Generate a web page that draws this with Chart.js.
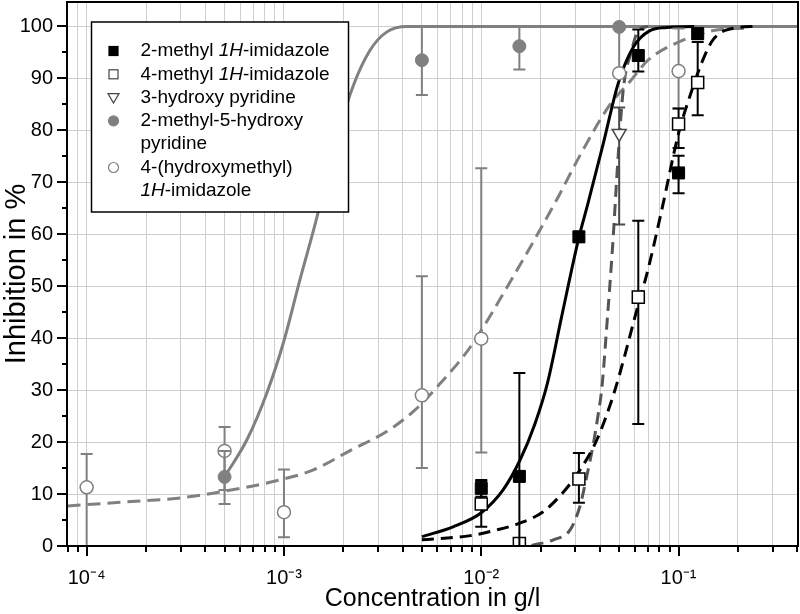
<!DOCTYPE html>
<html><head><meta charset="utf-8">
<script src="https://cdn.jsdelivr.net/npm/chart.js@4.4.1/dist/chart.umd.min.js"></script>
<style>html,body{margin:0;padding:0;background:#fff}canvas{display:block}</style>
</head><body>
<canvas id="c" width="800" height="614"></canvas>
<script>
// ---------- measured data (concentration g/l, inhibition %) ----------
// 2-methyl 1H-imidazole
const conc2MI = [0.01, 0.0156, 0.03125, 0.0625, 0.1, 0.125];
const inh2MI  = [11.1, 13.4, 59.5, 94.4, 71.8, 98.6];
const hi2MI   = [12.7, 33.3, 60.5, 99.4, 75.1, 99.6];
const lo2MI   = [9.5, 0.0, 58.5, 91.3, 67.9, 97.6];
// 4-methyl 1H-imidazole
const conc4MI = [0.01, 0.0156, 0.03125, 0.0625, 0.1, 0.125];
const inh4MI  = [8.1, 0.5, 12.9, 47.9, 81.2, 89.2];
const hi4MI   = [12.5, 1.5, 17.9, 62.6, 84.2, 97.0];
const lo4MI   = [3.7, 0.0, 8.3, 23.5, 76.6, 82.9];
// 3-hydroxy pyridine
const conc3HP = [0.05];
const inh3HP  = [79.4];
const hi3HP   = [84.4];
const lo3HP   = [61.9];
// 2-methyl-5-hydroxy pyridine
const concMHP = [0.0005, 0.005, 0.0156, 0.05];
const inhMHP  = [13.3, 93.5, 96.2, 99.9];
const hiMHP   = [18.3, 100, 100, 100];
const loMHP   = [8.1, 86.8, 91.7, 99.9];
// 4-(hydroxymethyl) 1H-imidazole
const concHMI = [0.0001, 0.0005, 0.001, 0.005, 0.01, 0.05, 0.1];
const inhHMI  = [11.3, 18.3, 6.5, 29.0, 39.9, 91.0, 91.4];
const hiHMI   = [17.7, 22.9, 14.7, 51.9, 72.7, 99.6, 99.6];
const loHMI   = [0.0, 10.8, 1.7, 15.0, 18.0, 91.0, 84.2];

// ---------- fitted curves ----------
const fitX2MI = [0.005, 0.0072, 0.01, 0.0129, 0.0157, 0.0187, 0.0217, 0.0255, 0.0313, 0.0345, 0.0415, 0.0494, 0.0589, 0.0716, 0.087, 0.12];
const fitY2MI = [1.8, 3.7, 6.4, 10.8, 16.5, 23.5, 31.5, 44.0, 59.5, 65.5, 77.4, 89.0, 96.0, 99.2, 99.8, 100];
const fitX4MI = [0.005, 0.0088, 0.012, 0.0157, 0.0206, 0.0261, 0.0316, 0.0385, 0.0467, 0.0534, 0.0601, 0.0703, 0.082, 0.1, 0.1175, 0.131, 0.15, 0.193, 0.25];
const fitY4MI = [1.2, 2.0, 3.1, 4.4, 6.6, 10.4, 14.6, 20.4, 29.0, 36.7, 44.1, 53.5, 64.5, 79.4, 88.0, 93.0, 97.5, 99.7, 100];
const fitX3HP = [0.018, 0.0232, 0.0282, 0.0316, 0.0342, 0.037, 0.0392, 0.0409, 0.0435, 0.0463, 0.0494, 0.0525, 0.0578, 0.0625, 0.07];
const fitY3HP = [0.1, 1.2, 3.1, 7.6, 13.3, 19.7, 25.5, 30.6, 43.5, 57.6, 75.0, 88.0, 95.4, 99.2, 100];
const fitXMHP = [0.0005, 0.00065, 0.00082, 0.001, 0.0012, 0.00144, 0.00164, 0.00192, 0.00224, 0.00273, 0.00331, 0.0042, 0.4];
const fitYMHP = [13.3, 20.5, 29.5, 39.5, 51.0, 62.0, 70.5, 80.5, 88.5, 95.4, 98.9, 100, 100];
const fitXHMI = [0.00008, 0.00016, 0.00029, 0.00051, 0.00088, 0.0014, 0.0022, 0.0033, 0.0045, 0.0062, 0.0088, 0.0145, 0.024, 0.032, 0.045, 0.057, 0.07, 0.1, 0.15, 0.22];
const fitYHMI = [7.7, 8.5, 9.2, 10.6, 12.4, 14.6, 18.5, 22.0, 25.8, 31.3, 38.3, 51.8, 66.5, 75.5, 85.0, 89.5, 93.5, 97.0, 99.2, 99.7];

// ---------- axes ----------
const xMin = 7.95e-5, xMax = 0.403;
const yMin = 0, yMax = 104.7;
const decadeVals = [1e-4, 1e-3, 1e-2, 1e-1];
const decadeLabels = ['10\u207B\u2074', '10\u207B\u00B3', '10\u207B\u00B2', '10\u207B\u00B9'];
const yTickVals = [0, 10, 20, 30, 40, 50, 60, 70, 80, 90, 100];
const xTitle = 'Concentration in g/l';
const yTitle = 'Inhibition in %';

const seriesNames = ['2-methyl 1H-imidazole', '4-methyl 1H-imidazole', '3-hydroxy pyridine',
  '2-methyl-5-hydroxy pyridine', '4-(hydroxymethyl) 1H-imidazole'];
// legend text with italic runs
const legendEntries = [
  {m: 0, lines: [[['2-methyl ', false], ['1H', true], ['-imidazole', false]]]},
  {m: 1, lines: [[['4-methyl ', false], ['1H', true], ['-imidazole', false]]]},
  {m: 2, lines: [[['3-hydroxy pyridine', false]]]},
  {m: 3, lines: [[['2-methyl-5-hydroxy', false]], [['pyridine', false]]]},
  {m: 4, lines: [[['4-(hydroxymethyl)', false]], [['1H', true], ['-imidazole', false]]]}
];

const GRAY = '#808080', DGRAY = '#4a4a4a';
const FONT = "'Liberation Sans', Arial, Helvetica, sans-serif";

const pts = (xs, ys) => xs.map((x, i) => ({x: x, y: ys[i]}));
const isDecade = v => decadeVals.some(d => Math.abs(d - v) / d < 1e-6);

const markerStyles = [
  {pointStyle: 'rect', pointRadius: 8.5, backgroundColor: '#000', borderColor: '#000', borderWidth: 1, err: '#000'},
  {pointStyle: 'rect', pointRadius: 8.5, backgroundColor: '#fff', borderColor: '#000', borderWidth: 1.5, err: '#000'},
  {pointStyle: 'triangle', pointRotation: 180, pointRadius: 8, backgroundColor: '#fff', borderColor: DGRAY, borderWidth: 1.5, err: DGRAY},
  {pointStyle: 'circle', pointRadius: 6.5, backgroundColor: GRAY, borderColor: GRAY, borderWidth: 1, err: GRAY},
  {pointStyle: 'circle', pointRadius: 6.5, backgroundColor: '#fff', borderColor: GRAY, borderWidth: 1.5, err: GRAY}
];

function pointSet(i, xs, ys, hi, lo) {
  const s = markerStyles[i];
  return {
    label: seriesNames[i], data: pts(xs, ys), showLine: false, order: 1,
    pointStyle: s.pointStyle, pointRadius: s.pointRadius, pointRotation: s.pointRotation || 0,
    pointBackgroundColor: s.backgroundColor, pointBorderColor: s.borderColor, pointBorderWidth: s.borderWidth,
    errHi: hi, errLo: lo, errColor: s.err
  };
}
function lineSet(label, xs, ys, color, dash) {
  return {
    label: label, data: pts(xs, ys), showLine: true, order: 2, pointRadius: 0,
    borderColor: color, borderWidth: 3, borderDash: dash, cubicInterpolationMode: 'monotone', fill: false
  };
}

const datasets = [
  pointSet(0, conc2MI, inh2MI, hi2MI, lo2MI),
  pointSet(1, conc4MI, inh4MI, hi4MI, lo4MI),
  pointSet(2, conc3HP, inh3HP, hi3HP, lo3HP),
  pointSet(3, concMHP, inhMHP, hiMHP, loMHP),
  pointSet(4, concHMI, inhHMI, hiHMI, loHMI),
  lineSet('fit 2-methyl 1H-imidazole', fitX2MI, fitY2MI, '#000', []),
  lineSet('fit 4-methyl 1H-imidazole', fitX4MI, fitY4MI, '#000', [12, 7]),
  lineSet('fit 3-hydroxy pyridine', fitX3HP, fitY3HP, '#555', [12, 7]),
  lineSet('fit 2-methyl-5-hydroxy pyridine', fitXMHP, fitYMHP, GRAY, []),
  lineSet('fit 4-(hydroxymethyl) 1H-imidazole', fitXHMI, fitYHMI, GRAY, [13, 7])
];

const errorBars = {
  id: 'errorBars',
  beforeDatasetDraw(chart, args) {
    const ds = chart.data.datasets[args.index];
    if (!ds.errHi) return;
    const {ctx, chartArea: a, scales: {x, y}} = chart;
    ctx.save();
    ctx.beginPath(); ctx.rect(a.left, a.top, a.right - a.left, a.bottom - a.top); ctx.clip();
    ctx.strokeStyle = ds.errColor; ctx.lineWidth = 2;
    ds.data.forEach((p, i) => {
      const px = x.getPixelForValue(p.x);
      const yh = y.getPixelForValue(ds.errHi[i]);
      const yl = y.getPixelForValue(ds.errLo[i]);
      ctx.beginPath();
      ctx.moveTo(px, yh); ctx.lineTo(px, yl);
      if (Math.abs(yh - yl) > 1) {
        ctx.moveTo(px - 6, yh); ctx.lineTo(px + 6, yh);
        ctx.moveTo(px - 6, yl); ctx.lineTo(px + 6, yl);
      }
      ctx.stroke();
    });
    ctx.restore();
  }
};

const frameTicks = {
  id: 'frameTicks',
  afterDatasetsDraw(chart) {
    const {ctx, chartArea: a, scales: {x, y}} = chart;
    ctx.save();
    ctx.strokeStyle = '#000'; ctx.lineWidth = 2;
    ctx.strokeRect(a.left, a.top, a.right - a.left, a.bottom - a.top);
    ctx.beginPath();
    x.ticks.forEach(t => {
      const px = Math.round(x.getPixelForValue(t.value));
      ctx.moveTo(px, a.bottom); ctx.lineTo(px, a.bottom + (isDecade(t.value) ? 10 : 6));
    });
    for (let v = 0; v <= 100; v += 5) {
      const py = Math.round(y.getPixelForValue(v));
      ctx.moveTo(a.left, py); ctx.lineTo(a.left - (v % 10 === 0 ? 10 : 5), py);
    }
    ctx.stroke();
    ctx.restore();
  }
};

function drawMarker(ctx, m, cx, cy) {
  ctx.lineWidth = 1.2;
  if (m === 0 || m === 1) {
    ctx.fillStyle = m === 0 ? '#000' : '#fff'; ctx.strokeStyle = m === 0 ? '#000' : '#444';
    ctx.fillRect(cx - 4.5, cy - 4.5, 9, 9); ctx.strokeRect(cx - 4.5, cy - 4.5, 9, 9);
  } else if (m === 2) {
    ctx.beginPath(); ctx.moveTo(cx - 5.5, cy - 4); ctx.lineTo(cx + 5.5, cy - 4); ctx.lineTo(cx, cy + 5.5); ctx.closePath();
    ctx.fillStyle = '#fff'; ctx.fill(); ctx.strokeStyle = '#444'; ctx.stroke();
  } else {
    ctx.beginPath(); ctx.arc(cx, cy, 5, 0, Math.PI * 2);
    ctx.fillStyle = m === 3 ? GRAY : '#fff'; ctx.fill(); ctx.strokeStyle = GRAY; ctx.stroke();
  }
}

const customLegend = {
  id: 'customLegend',
  afterDraw(chart) {
    const {ctx, chartArea: a} = chart;
    const bx = a.left + 24.5, by = a.top + 20, bw = 257, bh = 190;
    ctx.save();
    ctx.fillStyle = '#fff'; ctx.fillRect(bx, by, bw, bh);
    ctx.strokeStyle = '#000'; ctx.lineWidth = 1.5; ctx.strokeRect(bx, by, bw, bh);
    ctx.textBaseline = 'middle'; ctx.textAlign = 'left';
    let row = 0;
    legendEntries.forEach(e => {
      const cy0 = by + 29 + row * 23.3;
      drawMarker(ctx, e.m, bx + 22, cy0);
      e.lines.forEach((line, li) => {
        const cy = by + 29 + (row + li) * 23.3;
        let tx = bx + 49;
        line.forEach(([txt, it]) => {
          ctx.font = (it ? 'italic ' : '') + '19px ' + FONT;
          ctx.fillStyle = '#000';
          ctx.fillText(txt, tx, cy);
          tx += ctx.measureText(txt).width;
        });
      });
      row += e.lines.length;
    });
    ctx.restore();
  }
};

const zeroPad = s => { s.paddingTop = 0; s.paddingBottom = 0; s.paddingLeft = 0; s.paddingRight = 0; };

new Chart(document.getElementById('c'), {
  type: 'scatter',
  data: {datasets: datasets},
  plugins: [errorBars, frameTicks, customLegend],
  options: {
    responsive: false, animation: false, devicePixelRatio: 1, events: [],
    layout: {autoPadding: false, padding: {top: 2, right: 2, left: 0, bottom: 0}},
    plugins: {legend: {display: false}, tooltip: {enabled: false}},
    scales: {
      x: {
        type: 'logarithmic', position: 'bottom', min: xMin, max: xMax,
        afterBuildTicks: s => {
          const t = [];
          for (let e = -5; e <= 0; e++) for (let m = 1; m <= 9; m++) {
            const v = m * Math.pow(10, e);
            if (v >= xMin && v <= xMax) t.push({value: v});
          }
          s.ticks = t;
        },
        afterFit: s => { s.height = 68; zeroPad(s); },
        grid: {color: '#cfcfcf', lineWidth: 1, drawTicks: false},
        border: {display: false},
        ticks: {
          autoSkip: false, maxRotation: 0, padding: 20, color: '#000',
          font: {size: 20, family: FONT},
          callback: v => { const i = decadeVals.findIndex(d => Math.abs(d - v) / d < 1e-6); return i >= 0 ? decadeLabels[i] : ''; }
        },
        title: {display: true, text: xTitle, color: '#000', font: {size: 25, family: FONT}, padding: {top: 0, bottom: 0}}
      },
      y: {
        type: 'linear', min: yMin, max: yMax,
        afterBuildTicks: s => { s.ticks = yTickVals.map(v => ({value: v})); },
        afterFit: s => { s.width = 67; zeroPad(s); },
        grid: {color: '#cfcfcf', lineWidth: 1, drawTicks: false},
        border: {display: false},
        ticks: {padding: 14, color: '#000', font: {size: 20, family: FONT}},
        title: {display: true, text: yTitle, color: '#000', font: {size: 29, family: FONT}, padding: {top: 0, bottom: 0}}
      }
    }
  }
});
</script>
</body></html>
